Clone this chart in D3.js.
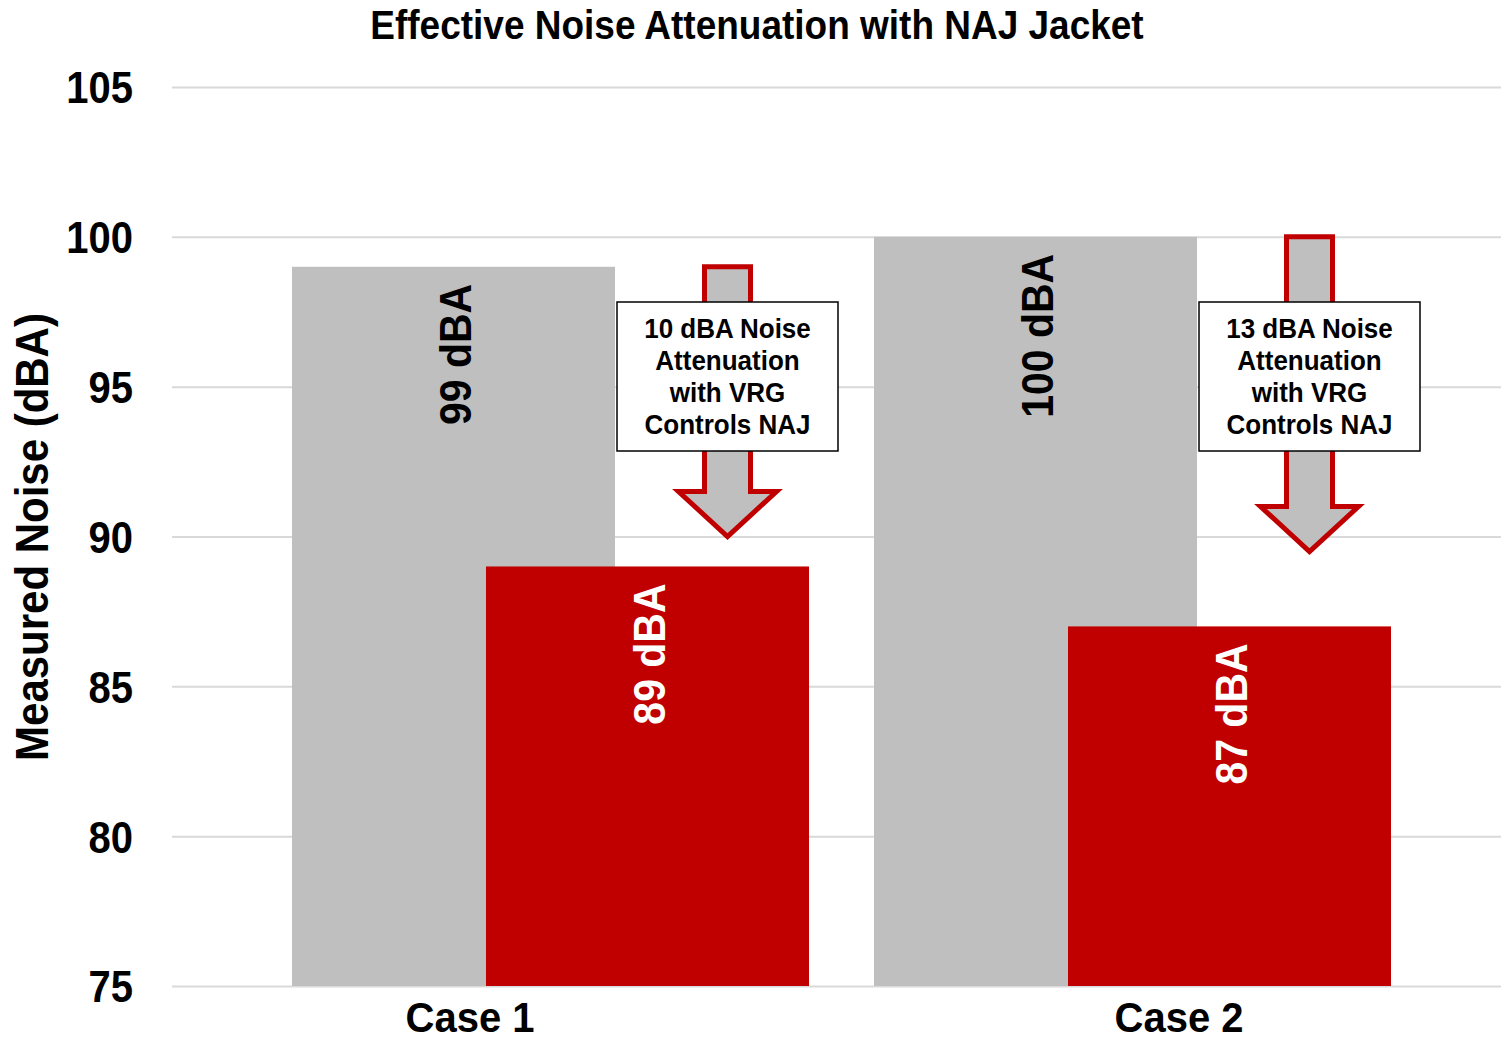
<!DOCTYPE html>
<html>
<head>
<meta charset="utf-8">
<script src="https://cdn.jsdelivr.net/npm/d3@7/dist/d3.min.js"></script>
<style>
  body { margin: 0; background: #fff; }
  text { font-family: "Liberation Sans", Arial, sans-serif; font-weight: bold; }
</style>
</head>
<body>
<div id="chart"></div>
<script>
// data
var categories = ["Case 1", "Case 2"];
var baseNoise = [99, 100];        // grey bars, without jacket
var najNoise = [89, 87];          // red bars, with NAJ jacket
var attenuation = [10, 13];       // dBA drop shown in the call-out boxes
var arrowTip = [90, 89.5];        // where the call-out arrows point to
var yTicks = [75, 80, 85, 90, 95, 100, 105];

var width = 1501,
    height = 1040,
    plot = {left: 172, right: 1501, top: 87, bottom: 986},
    stretch = 1.1;   // the source font is a bit taller than Arial

var grey = '#bfbfbf',
    red = '#c00000';

var y = d3.scaleLinear()
  .domain([75, 105])
  .range([plot.bottom, plot.top]);

var x = d3.scaleBand()
  .domain(categories)
  .range([259.5, 1423.5]);

var xLabel = d3.scalePoint()
  .domain(categories)
  .range([470, 1179]);

var barWidth = 323,
    barPad = 32.5,
    redShift = 194,
    arrowShift = 468;

var svg = d3.select('#chart')
  .append('svg')
  .attr('width', width)
  .attr('height', height);

// title
svg.append('text')
  .attr('transform', 'translate(757,39) scale(1,' + stretch + ')')
  .attr('text-anchor', 'middle')
  .attr('font-size', 37)
  .text('Effective Noise Attenuation with NAJ Jacket');

// grid + tick labels
var yAxis = svg.append('g')
  .attr('transform', 'translate(' + plot.left + ',0)')
  .call(d3.axisLeft(y).tickValues(yTicks).tickSize(-(plot.right - plot.left)).tickPadding(39));
yAxis.select('.domain').remove();
yAxis.selectAll('.tick line').attr('stroke', '#d9d9d9').attr('stroke-width', 2);
yAxis.selectAll('.tick text')
  .attr('font-size', 40)
  .attr('font-family', '"Liberation Sans", Arial, sans-serif')
  .attr('fill', '#000')
  .attr('dy', '0.36em')
  .attr('transform', 'scale(1,' + stretch + ')');

// y axis title
svg.append('text')
  .attr('transform', 'translate(48,537) rotate(-90) scale(1,' + stretch + ')')
  .attr('text-anchor', 'middle')
  .attr('font-size', 42)
  .text('Measured Noise (dBA)');

var rows = categories.map(function (c, i) {
  return {cat: c, base: baseNoise[i], naj: najNoise[i], att: attenuation[i], tip: arrowTip[i]};
});

// grey bars
svg.selectAll('rect.base').data(rows)
  .enter().append('rect')
  .attr('class', 'base')
  .attr('fill', grey)
  .attr('x', function (d) { return x(d.cat) + barPad; })
  .attr('width', barWidth)
  .attr('y', function (d) { return y(d.base); })
  .attr('height', function (d) { return y(75) - y(d.base); });

// red bars
svg.selectAll('rect.naj').data(rows)
  .enter().append('rect')
  .attr('class', 'naj')
  .attr('fill', red)
  .attr('x', function (d) { return x(d.cat) + barPad + redShift; })
  .attr('width', barWidth)
  .attr('y', function (d) { return y(d.naj); })
  .attr('height', function (d) { return y(75) - y(d.naj); });

// value labels inside the bars
svg.selectAll('text.baseLabel').data(rows)
  .enter().append('text')
  .attr('class', 'baseLabel')
  .attr('transform', function (d) {
    var cx = x(d.cat) + barPad + barWidth / 2 + 17;
    return 'translate(' + cx + ',' + (y(d.base) + 17) + ') rotate(-90) scale(1,' + stretch + ')';
  })
  .attr('text-anchor', 'end')
  .attr('font-size', 41)
  .attr('fill', '#000')
  .text(function (d) { return d.base + ' dBA'; });

svg.selectAll('text.najLabel').data(rows)
  .enter().append('text')
  .attr('class', 'najLabel')
  .attr('transform', function (d) {
    var cx = x(d.cat) + barPad + redShift + barWidth / 2 + 17;
    return 'translate(' + cx + ',' + (y(d.naj) + 17) + ') rotate(-90) scale(1,' + stretch + ')';
  })
  .attr('text-anchor', 'end')
  .attr('font-size', 41)
  .attr('fill', '#fff')
  .text(function (d) { return d.naj + ' dBA'; });

// down arrows
var shaft = 23, head = 49, headLen = 45;
svg.selectAll('path.arrow').data(rows)
  .enter().append('path')
  .attr('class', 'arrow')
  .attr('fill', grey)
  .attr('stroke', red)
  .attr('stroke-width', 5)
  .attr('d', function (d) {
    var cx = x(d.cat) + arrowShift,
        top = y(d.base),
        tip = y(d.tip),
        neck = tip - headLen;
    return 'M' + (cx - shaft) + ',' + top +
      'H' + (cx + shaft) + 'V' + neck + 'H' + (cx + head) +
      'L' + cx + ',' + tip + 'L' + (cx - head) + ',' + neck +
      'H' + (cx - shaft) + 'Z';
  });

// call-out boxes
var boxW = 221, boxH = 149, boxTop = 302;
var boxes = svg.selectAll('g.callout').data(rows)
  .enter().append('g')
  .attr('class', 'callout')
  .attr('transform', function (d) { return 'translate(' + (x(d.cat) + arrowShift) + ',' + boxTop + ')'; });

boxes.append('rect')
  .attr('x', -boxW / 2)
  .attr('width', boxW)
  .attr('height', boxH)
  .attr('fill', '#fff')
  .attr('stroke', '#000')
  .attr('stroke-width', 1.5);

boxes.each(function (d) {
  var lines = [d.att + ' dBA Noise', 'Attenuation', 'with VRG', 'Controls NAJ'];
  d3.select(this).selectAll('text').data(lines)
    .enter().append('text')
    .attr('transform', function (t, i) { return 'translate(0,' + (36 + i * 32) + ') scale(1,1.07)'; })
    .attr('text-anchor', 'middle')
    .attr('font-size', 26)
    .text(function (t) { return t; });
});

// category labels
svg.selectAll('text.cat').data(categories)
  .enter().append('text')
  .attr('class', 'cat')
  .attr('transform', function (d) { return 'translate(' + xLabel(d) + ',1032) scale(1,1.05)'; })
  .attr('text-anchor', 'middle')
  .attr('font-size', 40)
  .text(function (d) { return d; });
</script>
</body>
</html>
